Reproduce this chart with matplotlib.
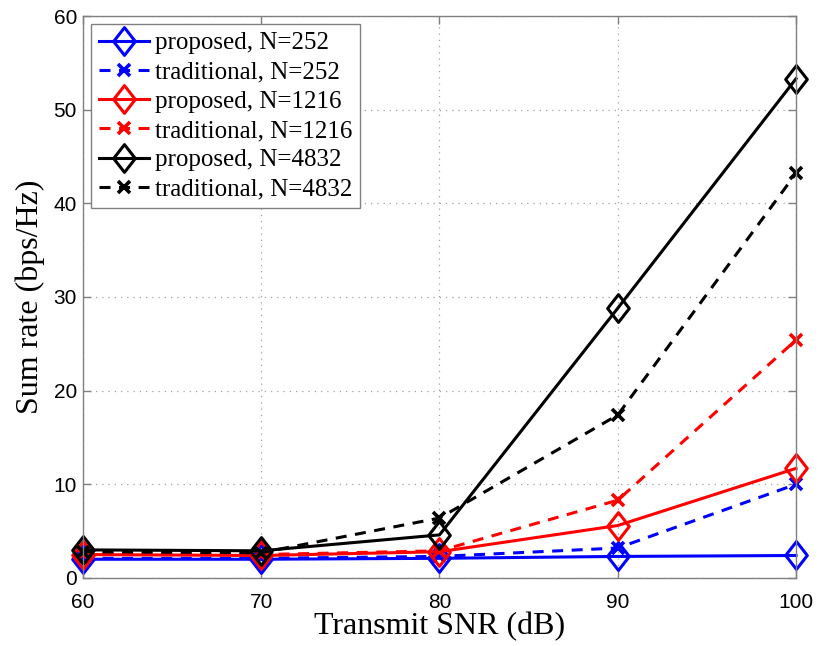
import matplotlib.pyplot as plt
from matplotlib.path import Path
import numpy as np

snr = [60, 70, 80, 90, 100]

# sum rate (bps/Hz)
prop_252 = [2.0, 2.0, 2.1, 2.3, 2.4]
trad_252 = [2.1, 2.1, 2.3, 3.2, 10.0]
prop_1216 = [2.5, 2.4, 2.8, 5.6, 11.7]
trad_1216 = [2.6, 2.5, 2.9, 8.3, 25.4]
prop_4832 = [3.0, 2.9, 4.6, 28.8, 53.3]
trad_4832 = [2.8, 2.7, 6.4, 17.4, 43.2]

labels = ['proposed, N=252', 'traditional, N=252',
          'proposed, N=1216', 'traditional, N=1216',
          'proposed, N=4832', 'traditional, N=4832']
series = [prop_252, trad_252, prop_1216, trad_1216, prop_4832, trad_4832]
colors = ['#0000ff', '#0000ff', '#ff0000', '#ff0000', '#000000', '#000000']

# matlab-like diamond, a bit taller than wide
diamond = Path([(0, -1), (0.78, 0), (0, 1), (-0.78, 0), (0, -1)],
               [Path.MOVETO, Path.LINETO, Path.LINETO, Path.LINETO, Path.CLOSEPOLY])

fig = plt.figure(figsize=(8.19, 6.46), dpi=100, facecolor='white')
ax = fig.add_axes([0.1013, 0.1053, 0.8706, 0.8699])

for i in range(len(series)):
    if i % 2 == 0:
        ax.plot(snr, series[i], color=colors[i], lw=2.2, ls='-',
                marker=diamond, markersize=20, markerfacecolor='none',
                markeredgewidth=2.2, label=labels[i], clip_on=False)
    else:
        ax.plot(snr, series[i], color=colors[i], lw=2.2, ls=(0, (3.6, 2.8)),
                marker='x', markersize=9, markeredgewidth=2.6, label=labels[i],
                clip_on=False)

ax.set_xlim(60, 100)
ax.set_ylim(0, 60)
ax.set_xticks([60, 70, 80, 90, 100])
ax.set_yticks([0, 10, 20, 30, 40, 50, 60])
ax.grid(True, linestyle=(0, (1, 4)), color='#a0a0a0', linewidth=0.9)
ax.set_axisbelow(True)

for s in ax.spines.values():
    s.set_color('#808080')
    s.set_linewidth(1.0)
ax.tick_params(direction='in', top=True, right=True, color='#808080',
               length=6, width=1.0, labelsize=15)
ax.tick_params(axis='x', pad=10.5)
ax.tick_params(axis='y', pad=4.3)
for lab in ax.get_xticklabels() + ax.get_yticklabels():
    lab.set_fontfamily('Liberation Sans')

ax.set_xlabel('Transmit SNR (dB)', fontfamily='Liberation Serif', fontsize=23, labelpad=0)
ax.set_ylabel('Sum rate (bps/Hz)', fontfamily='Liberation Serif', fontsize=23, labelpad=6)

leg = ax.legend(loc='upper left', prop={'family': 'Liberation Serif', 'size': 18},
                fancybox=False, framealpha=1, edgecolor='#808080',
                handlelength=2.0, handletextpad=0.24, labelspacing=0.27,
                borderpad=0.3, borderaxespad=0.33, markerscale=1.0)
leg.get_frame().set_linewidth(1.0)

fig.savefig('out.png', dpi=100, facecolor='white')
